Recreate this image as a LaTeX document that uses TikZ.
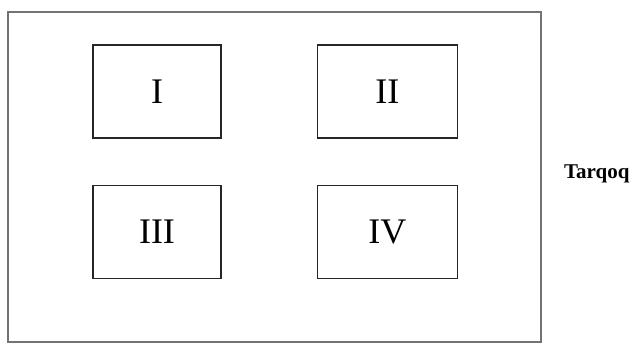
\documentclass[tikz,border=0pt]{standalone}
\usepackage{fontspec}
\setmainfont{Liberation Serif}
\usepackage{tikz}
\usetikzlibrary{positioning}
\tikzstyle{field}=[rectangle, draw=black!55, line width=1.1pt, minimum width=533pt, minimum height=330pt, inner sep=0pt]
\tikzstyle{plot}=[rectangle, draw=black!85, line width=1.3pt, minimum height=93pt, inner sep=0pt,
  font=\fontsize{36}{40}\selectfont]
\begin{document}
\begin{tikzpicture}[x=1pt,y=-1pt,node distance=46pt and 95pt]
\useasboundingbox (0,0) rectangle (634,343);
\node[field] (field) at (274.5,177) {};
\node[plot,minimum width=128pt] (p1) at (157,91.5) {I};
\node[plot,minimum width=140pt,right=of p1] (p2) {II};
\node[plot,minimum width=128pt,below=of p1] (p3) {III};
\node[plot,minimum width=140pt,below=of p2] (p4) {IV};
\node[anchor=west,font=\bfseries\fontsize{21}{24}\selectfont,xshift=19pt,yshift=3pt] (lbl) at (field.east) {Tarqoq};
\end{tikzpicture}
\end{document}
